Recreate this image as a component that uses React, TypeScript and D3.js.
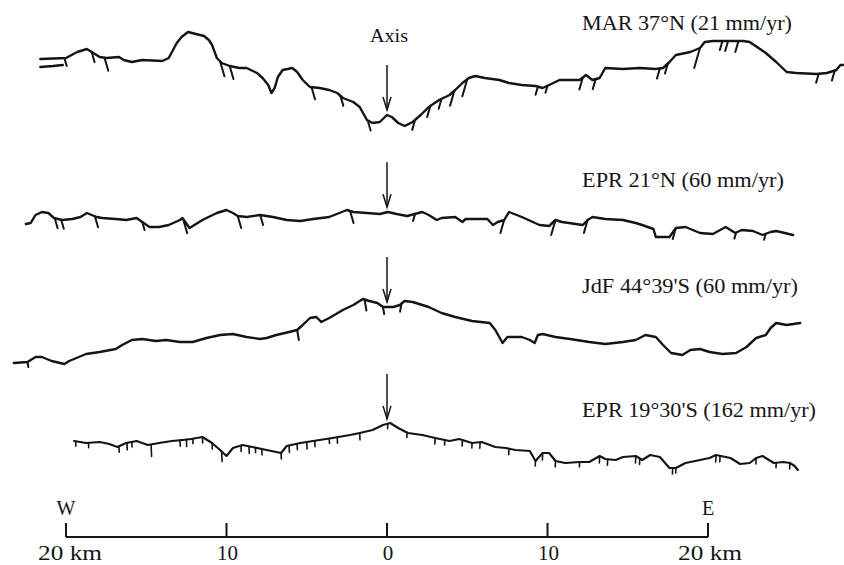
import React from "react";
import * as d3 from "d3";

// ---- data: distance from axis (km, W negative) and relief relative to axis (m) ----
const MAR_37N: [number, number][] = [
  [-21.6, 560], [-20.0, 570], [-19.3, 630], [-18.7, 660], [-18.4, 630], [-18.1, 600], [-17.9, 580],
  [-17.5, 570], [-16.7, 580], [-16.4, 550], [-15.9, 530], [-15.25, 550], [-14.0, 540], [-13.6, 570],
  [-13.1, 720], [-12.8, 780], [-12.4, 830], [-11.9, 810], [-11.4, 790], [-11.1, 750], [-10.9, 700],
  [-10.6, 570], [-10.3, 520], [-9.8, 490], [-9.2, 470], [-8.75, 470], [-8.1, 420], [-7.75, 370],
  [-7.4, 300], [-7.2, 220], [-7.0, 270], [-6.8, 380], [-6.5, 450], [-5.9, 470], [-5.6, 430],
  [-5.25, 350], [-4.8, 280], [-4.2, 270], [-3.6, 250], [-3.1, 220], [-2.75, 170], [-2.1, 130],
  [-1.7, 80], [-1.25, -50], [-0.9, -80], [-0.45, -70], [0, 0], [0.3, -20], [0.7, -80], [1.1, -110],
  [1.6, -70], [2.1, 0], [2.6, 80], [3.25, 150], [3.9, 200], [4.25, 250], [4.7, 320], [5.1, 370],
  [5.5, 390], [6.1, 370], [7.0, 350], [7.6, 320], [8.4, 300], [9.25, 290], [9.7, 270], [10.1, 300],
  [10.75, 350], [12.0, 350], [12.4, 400], [12.8, 350], [13.25, 370], [13.6, 470], [14.7, 460],
  [15.75, 470], [16.75, 460], [17.2, 470], [17.6, 530], [18.0, 600], [18.9, 630], [19.5, 670],
  [19.8, 730], [20.3, 740], [22.2, 740], [22.6, 730], [23.6, 620], [24.25, 530], [24.9, 430],
  [25.5, 420], [26.75, 410], [27.4, 420], [28.0, 450], [28.25, 500], [28.6, 500],
];
const MAR_37N_STRAND: [number, number][] = [[-21.6, 480], [-20.8, 490], [-20.2, 500]];
const MAR_37N_SCARPS: [number, number][] = [
  [-20.1, 80], [-18.4, 100], [-17.6, 130], [-10.4, 150], [-9.8, 130], [-4.7, 120], [-2.9, 100],
  [-1.2, 100], [1.75, 100], [2.7, 110], [3.4, 100], [4.2, 150], [5.0, 170], [9.4, 80], [10.0, 70],
  [12.2, 120], [13.0, 100], [17.0, 100], [17.5, 100], [19.5, 200], [20.9, 90], [21.25, 100],
  [21.9, 110], [26.9, 90], [27.9, 100],
];

const EPR_21N: [number, number][] = [
  [-22.5, -120], [-22.2, -110], [-21.9, -30], [-21.5, 0], [-21.1, -10], [-20.75, -60], [-20.25, -80],
  [-19.6, -70], [-19.1, -50], [-18.7, -10], [-18.1, -50], [-17.75, -60], [-16.9, -70], [-16.25, -80],
  [-15.6, -60], [-15.25, -100], [-14.8, -150], [-14.2, -150], [-13.6, -130], [-12.9, -80],
  [-12.75, -60], [-12.3, -160], [-12.1, -140], [-11.5, -80], [-10.6, -10], [-10.0, 20], [-9.6, -10],
  [-9.3, -40], [-8.75, -50], [-7.9, -30], [-7.1, -50], [-6.25, -80], [-5.4, -90], [-4.6, -70],
  [-3.6, -50], [-2.5, 20], [-2.1, 0], [-1.25, -10], [-0.45, -20], [0.05, 0], [0.6, -20], [1.25, -40],
  [2.2, 0], [2.6, -30], [3.1, -80], [3.4, -60], [4.25, -50], [4.7, -100], [4.9, -70], [6.25, -70],
  [6.6, -130], [6.9, -100], [7.3, -80], [7.6, 0], [8.4, -50], [9.5, -130], [10.1, -140], [10.5, -80],
  [10.9, -100], [12.2, -130], [12.5, -80], [12.8, -50], [13.6, -70], [14.7, -80], [15.5, -110],
  [15.9, -130], [16.6, -170], [16.75, -250], [17.6, -250], [18.0, -160], [18.6, -150], [19.5, -210],
  [20.3, -220], [21.1, -150], [21.7, -210], [22.1, -180], [22.8, -190], [23.4, -230], [23.9, -200],
  [24.25, -190], [25.3, -230],
];
const EPR_21N_SCARPS: [number, number][] = [
  [-20.7, 100], [-20.3, 90], [-18.2, 110], [-15.25, 80], [-12.7, 140], [-9.3, 120], [-7.9, 100],
  [-2.3, 120], [1.75, 70], [7.3, 130], [10.5, 150], [12.5, 130], [18.0, 110], [21.75, 60], [23.6, 60],
];

const JDF_44S: [number, number][] = [
  [-23.25, -560], [-22.4, -550], [-21.9, -500], [-21.5, -500], [-20.9, -540], [-20.1, -570],
  [-19.8, -540], [-19.2, -500], [-18.75, -470], [-17.9, -450], [-16.9, -420], [-16.5, -380],
  [-15.9, -330], [-15.25, -320], [-14.4, -340], [-13.75, -330], [-12.9, -350], [-12.1, -350],
  [-11.25, -310], [-10.4, -280], [-9.6, -270], [-8.75, -300], [-7.9, -320], [-7.5, -310], [-6.9, -280],
  [-6.1, -250], [-5.6, -230], [-5.25, -180], [-4.8, -110], [-4.4, -100], [-4.1, -150], [-3.6, -110],
  [-2.75, -30], [-2.1, 20], [-1.5, 80], [-1.1, 60], [-0.6, 40], [-0.25, 0], [0.4, 0], [0.8, 20],
  [1.1, 60], [1.6, 50], [2.2, 20], [2.6, 0], [3.4, -60], [4.25, -100], [5.3, -140], [6.4, -160],
  [6.75, -230], [7.2, -360], [7.5, -300], [8.4, -300], [8.9, -330], [9.2, -360], [9.4, -280],
  [9.7, -270], [10.5, -300], [11.4, -320], [12.6, -350], [13.6, -370], [14.7, -350], [15.5, -330],
  [16.1, -280], [16.75, -300], [17.2, -380], [17.7, -460], [18.4, -480], [18.9, -430], [19.5, -420],
  [20.1, -450], [20.9, -470], [21.75, -460], [22.4, -400], [23.0, -310], [23.6, -280], [23.9, -210],
  [24.25, -160], [24.9, -180], [25.75, -160],
];
const JDF_44S_SCARPS: [number, number][] = [
  [-22.4, 50], [-5.6, 100], [-1.4, 110], [-0.25, 70], [0.9, 80],
];

const EPR_19S: [number, number][] = [
  [-19.5, -170], [-18.75, -190], [-17.9, -180], [-17.3, -200], [-16.8, -230], [-16.25, -190],
  [-15.6, -170], [-14.9, -210], [-14.2, -190], [-13.4, -170], [-12.75, -160], [-12.2, -150],
  [-11.5, -130], [-10.9, -190], [-10.4, -260], [-10.0, -320], [-9.6, -240], [-9.0, -210], [-8.4, -230],
  [-7.5, -260], [-6.6, -290], [-6.25, -220], [-5.4, -190], [-4.2, -160], [-3.4, -140], [-2.3, -110],
  [-1.7, -90], [-0.9, -60], [-0.25, -10], [0.2, 10], [0.7, -40], [1.3, -90], [2.2, -110], [3.0, -140],
  [3.9, -170], [4.5, -150], [5.3, -190], [5.9, -180], [6.75, -230], [7.4, -240], [8.0, -260],
  [8.9, -270], [9.25, -370], [9.7, -290], [10.1, -290], [10.5, -370], [11.1, -390], [12.0, -380],
  [12.6, -380], [13.25, -320], [13.6, -350], [14.25, -360], [14.7, -330], [15.5, -320], [15.9, -360],
  [16.4, -310], [17.0, -330], [17.6, -440], [18.0, -440], [18.6, -390], [19.5, -360], [20.1, -340],
  [20.5, -310], [21.4, -340], [22.0, -400], [22.6, -390], [23.0, -340], [23.4, -320], [24.1, -390],
  [24.7, -380], [25.1, -390], [25.4, -420], [25.6, -460],
];
const EPR_19S_SCARPS: [number, number][] = [
  [-19.4, 50], [-18.6, 50], [-16.7, 60], [-16.2, 70], [-15.9, 50], [-14.7, 120], [-12.9, 60],
  [-12.5, 70], [-12.1, 50], [-11.5, 60], [-10.9, 60], [-10.3, 100], [-9.1, 60], [-8.6, 70],
  [-8.2, 50], [-7.8, 60], [-6.6, 60], [-6.1, 70], [-5.6, 60], [-5.0, 70], [-4.5, 60], [-3.6, 50],
  [-3.1, 60], [-1.7, 70], [0.05, 50], [1.25, 50], [3.0, 60], [3.6, 50], [4.7, 60], [5.3, 50],
  [5.8, 60], [7.6, 60], [9.25, 50], [9.7, 70], [10.5, 60], [12.0, 50], [13.25, 70], [13.75, 60],
  [15.5, 70], [15.75, 60], [17.8, 60], [18.0, 50], [20.5, 70], [20.75, 60], [23.0, 60],
  [24.25, 50], [25.1, 60],
];

const PROFILE_NAMES = [
  "MAR 37°N (21 mm/yr)",
  "EPR 21°N (60 mm/yr)",
  "JdF 44°39'S (60 mm/yr)",
  "EPR 19°30'S (162 mm/yr)",
];
const X_TICKS = [-20, -10, 0, 10, 20];
const X_TICK_LABELS = ["20 km", "10", "0", "10", "20 km"];
const AXIS_LABEL = "Axis";

// ---- layout ----
const W = 844;
const H = 565;
const FONT = "'Liberation Serif', 'Times New Roman', serif";
const INK = "#141414";

const x = d3.scaleLinear().domain([-20, 20]).range([66, 708]);

const profiles = [
  { line: MAR_37N, strands: [MAR_37N_STRAND], scarps: MAR_37N_SCARPS, axisY: 115, labelY: 30, labelW: 210, lean: 1 },
  { line: EPR_21N, strands: [], scarps: EPR_21N_SCARPS, axisY: 212, labelY: 187, labelW: 202, lean: 1 },
  { line: JDF_44S, strands: [], scarps: JDF_44S_SCARPS, axisY: 307, labelY: 293, labelW: 216, lean: 0.6 },
  { line: EPR_19S, strands: [], scarps: EPR_19S_SCARPS, axisY: 424, labelY: 417, labelW: 234, lean: 0.15 },
];

function elevAt(pts: [number, number][], km: number): number {
  const i = d3.bisector((d: [number, number]) => d[0]).left(pts, km);
  if (i <= 0) return pts[0][1];
  if (i >= pts.length) return pts[pts.length - 1][1];
  const [x0, y0] = pts[i - 1];
  const [x1, y1] = pts[i];
  const t = (km - x0) / (x1 - x0);
  return y0 + t * (y1 - y0);
}

export default function App() {
  const axisLineY = 537;
  return (
    <svg
      width={W}
      height={H}
      viewBox={`0 0 ${W} ${H}`}
      style={{ position: "absolute", left: 0, top: 0, background: "#fff" }}
      fontFamily={FONT}
    >
      <rect x={0} y={0} width={W} height={H} fill="#fff" />
      {profiles.map((p, pi) => {
        const y = d3.scaleLinear().domain([0, 1000]).range([p.axisY, p.axisY - 100]);
        const line = d3
          .line<[number, number]>()
          .x((d) => x(d[0]))
          .y((d) => y(d[1]));
        const tipY = y(elevAt(p.line, 0)) - 5;
        const ax = x(0);
        return (
          <g key={pi}>
            <path d={line(p.line) || ""} fill="none" stroke={INK} strokeWidth={pi === 3 ? 2.1 : 2.4} strokeLinejoin="round" strokeLinecap="round" />
            {p.strands.map((s, si) => (
              <path key={si} d={line(s) || ""} fill="none" stroke={INK} strokeWidth={2.4} strokeLinecap="round" />
            ))}
            {p.scarps.map(([km, len], si) => {
              const top = elevAt(p.line, km);
              const dir = km < 0 ? 1 : -1;
              const km2 = km + dir * p.lean * len * 0.0018;
              return (
                <line
                  key={si}
                  x1={x(km)}
                  y1={y(top)}
                  x2={x(km2)}
                  y2={y(top - len)}
                  stroke={INK}
                  strokeWidth={pi === 3 ? 1.6 : 2}
                  strokeLinecap="round"
                />
              );
            })}
            {/* axis arrow */}
            <line x1={ax} y1={tipY - 45} x2={ax} y2={tipY} stroke={INK} strokeWidth={1.5} />
            <path
              d={`M${ax - 4},${tipY - 13} L${ax},${tipY} L${ax + 4},${tipY - 13}`}
              fill="none"
              stroke={INK}
              strokeWidth={1.5}
            />
            <text
              x={582}
              y={p.labelY}
              fontSize={20}
              fill={INK}
              textLength={p.labelW}
              lengthAdjust="spacingAndGlyphs"
            >
              {PROFILE_NAMES[pi]}
            </text>
          </g>
        );
      })}
      <text x={x(0) + 2} y={42} fontSize={19} fill={INK} textAnchor="middle" textLength={38} lengthAdjust="spacingAndGlyphs">
        {AXIS_LABEL}
      </text>

      {/* distance scale */}
      <line x1={x(-20)} y1={axisLineY} x2={x(20)} y2={axisLineY} stroke={INK} strokeWidth={2.2} />
      {X_TICKS.map((t, i) => {
        const wide = X_TICK_LABELS[i].length > 2;
        return (
          <g key={i}>
            <line x1={x(t)} y1={axisLineY} x2={x(t)} y2={axisLineY - 14} stroke={INK} strokeWidth={2} />
            {wide ? (
              <text
                x={x(t) + (i === 0 ? 4 : 2)}
                y={560}
                fontSize={21}
                fill={INK}
                textAnchor="middle"
                textLength={64}
                lengthAdjust="spacingAndGlyphs"
              >
                {X_TICK_LABELS[i]}
              </text>
            ) : (
              <text x={x(t) + 1} y={560} fontSize={21} fill={INK} textAnchor="middle">
                {X_TICK_LABELS[i]}
              </text>
            )}
          </g>
        );
      })}
      <text x={x(-20)} y={515} fontSize={20} fill={INK} textAnchor="middle">W</text>
      <text x={x(20)} y={515} fontSize={20} fill={INK} textAnchor="middle">E</text>
    </svg>
  );
}
